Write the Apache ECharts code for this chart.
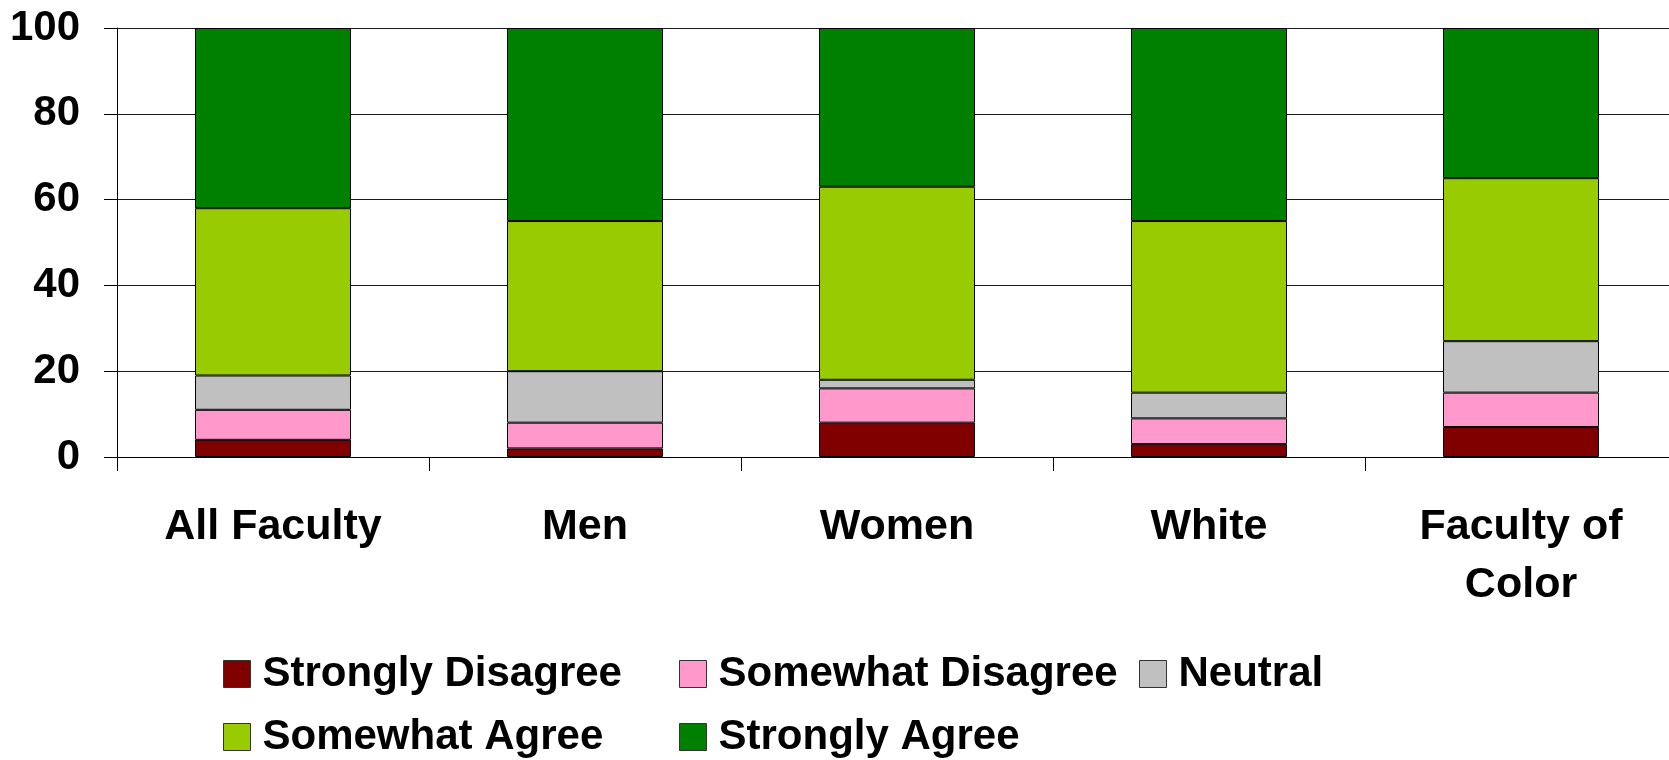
<!DOCTYPE html>
<html>
<head>
<meta charset="utf-8">
<script src="https://cdn.jsdelivr.net/npm/echarts@6/dist/echarts.min.js"></script>
<style>
  html, body { margin: 0; padding: 0; background: #ffffff; }
  #chart { width: 1669px; height: 760px; }
</style>
</head>
<body>
<div id="chart"></div>
<script>
// Groups shown along the horizontal axis
const categories = ['All Faculty', 'Men', 'Women', 'White', 'Faculty of Color'];

// Percent of respondents per response level, one value per group
const stronglyDisagree = [4, 2, 8, 3, 7];
const somewhatDisagree = [7, 6, 8, 6, 8];
const neutral = [8, 12, 2, 6, 12];
const somewhatAgree = [39, 35, 45, 40, 38];
const stronglyAgree = [42, 45, 37, 45, 35];

const seriesNames = ['Strongly Disagree', 'Somewhat Disagree', 'Neutral', 'Somewhat Agree', 'Strongly Agree'];
const seriesValues = [stronglyDisagree, somewhatDisagree, neutral, somewhatAgree, stronglyAgree];
const seriesColors = ['#800000', '#FF99CC', '#C0C0C0', '#99CC00', '#008000'];

// Legend laid out in two rows with aligned columns
const legendSlots = [
  { left: 223, top: 653 },
  { left: 679, top: 653 },
  { left: 1139, top: 653 },
  { left: 223, top: 716 },
  { left: 679, top: 716 }
];

const FONT = '"Liberation Sans", Arial, Helvetica, sans-serif';
const CATEGORY_FONT_SIZE = 43;
const CATEGORY_LABEL_WIDTH = 300;

// Word-wrap a category name so each line fits the label width
const measureCtx = document.createElement('canvas').getContext('2d');
measureCtx.font = 'bold ' + CATEGORY_FONT_SIZE + 'px ' + FONT;
function wrapLabel(text) {
  const words = text.split(' ');
  const lines = [];
  let line = '';
  words.forEach(w => {
    const candidate = line ? line + ' ' + w : w;
    if (line && measureCtx.measureText(candidate).width > CATEGORY_LABEL_WIDTH) {
      lines.push(line);
      line = w;
    } else {
      line = candidate;
    }
  });
  if (line) lines.push(line);
  return lines.join('\n');
}

const chart = echarts.init(document.getElementById('chart'), null, { renderer: 'canvas' });

const option = {
  backgroundColor: '#ffffff',
  animation: false,
  // the plot area runs a little past the right edge of the canvas
  grid: { left: 117, top: 28, right: -8, bottom: 303, containLabel: false, outerBoundsMode: 'none' },
  legend: seriesNames.map((name, i) => ({
    data: [name],
    left: legendSlots[i].left,
    top: legendSlots[i].top,
    padding: 0,
    orient: 'horizontal',
    icon: 'rect',
    itemWidth: 27,
    itemHeight: 27,
    selectedMode: false,
    itemStyle: { borderColor: '#333333', borderWidth: 1 },
    textStyle: {
      fontFamily: FONT,
      fontWeight: 'bold',
      fontSize: 42,
      color: '#000000',
      padding: [0, 0, 0, 7]
    }
  })),
  xAxis: {
    type: 'category',
    data: categories,
    axisLine: { show: true, lineStyle: { color: '#000000', width: 1 } },
    axisTick: { show: true, length: 14, lineStyle: { color: '#000000', width: 1 } },
    axisLabel: {
      interval: 0,
      margin: 41,
      fontFamily: FONT,
      fontWeight: 'bold',
      fontSize: CATEGORY_FONT_SIZE,
      lineHeight: 58,
      color: '#000000',
      formatter: wrapLabel
    },
    splitLine: { show: false }
  },
  yAxis: {
    type: 'value',
    min: 0,
    max: 100,
    interval: 20,
    axisLine: { show: true, lineStyle: { color: '#000000', width: 1 } },
    axisTick: { show: true, length: 13, lineStyle: { color: '#000000', width: 1 } },
    axisLabel: {
      margin: 37,
      fontFamily: FONT,
      fontWeight: 'bold',
      fontSize: 42,
      color: '#000000'
    },
    splitLine: { show: true, lineStyle: { color: '#1a1a1a', width: 1.2 } }
  },
  series: seriesNames.map((name, i) => ({
    name: name,
    type: 'bar',
    stack: 'total',
    barWidth: '50%',
    data: seriesValues[i],
    itemStyle: { color: seriesColors[i], borderColor: '#000000', borderWidth: 1 },
    emphasis: { disabled: true }
  }))
};

chart.setOption(option);
</script>
</body>
</html>
